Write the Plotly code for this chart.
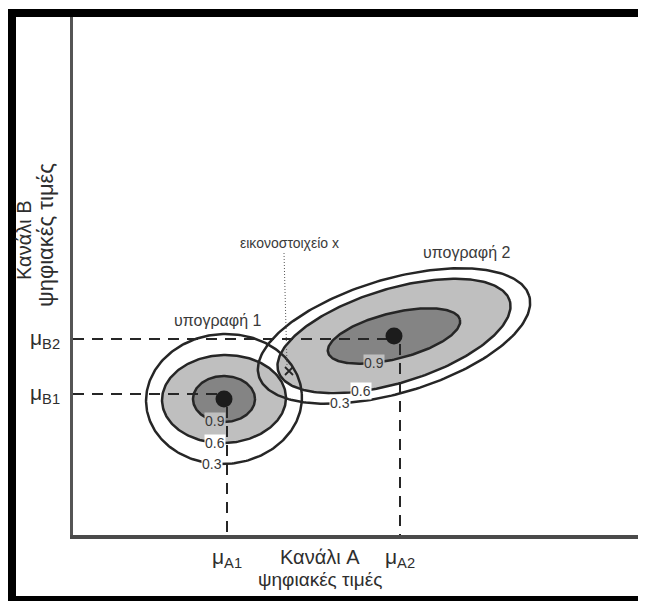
import numpy as np
import plotly.graph_objects as go

# ---------------- data (digital values, arbitrary units) ----------------
mean_a = [77.0, 163.5]            # μA1, μA2 (Κανάλι A)
mean_b = [70.5, 98.0]             # μB1, μB2 (Κανάλι B)
mean_a_labels = ["μ<sub>A1</sub>", "μ<sub>A2</sub>"]
mean_b_labels = ["μ<sub>B1</sub>", "μ<sub>B2</sub>"]

signature_names = ["υπογραφή 1", "υπογραφή 2"]
signature_cx = [75.5, 160.5]
signature_cy = [68.0, 99.5]
contour_levels = [0.3, 0.6, 0.9]
sig1_semi_major = [39.0, 31.0, 15.5]
sig1_semi_minor = [32.5, 22.0, 11.5]
sig1_angle = [4.0, 2.0, 0.0]
sig1_label_t = [-102.0, -100.0, -107.0]
sig2_semi_major = [70.5, 60.5, 34.0]
sig2_semi_minor = [28.5, 23.5, 11.5]
sig2_angle = [16.5, 17.0, 14.0]
sig2_label_t = [-120.0, -113.0, -112.0]

pixel_name = "εικονοστοιχείο x"
pixel_x = [108.0]
pixel_y = [82.0]

x_range = [0, 284.5]
y_range = [0, 259.0]

# ---------------- styling ----------------
FONT = "Liberation Sans, Arial, sans-serif"
TXT = "#2e2e2e"
LINE = "#262626"
LIGHT = "#bfbfbf"
DARK = "#848484"
fill_for_level = {0.3: None, 0.6: LIGHT, 0.9: DARK}
label_bg = {0.3: "white", 0.6: "white", 0.9: LIGHT}

# page body has an 8px margin: build the figure in page pixels minus that offset
OFF = 8
PAGE_W, PAGE_H = 646, 601
W, H = PAGE_W - OFF, PAGE_H - OFF
PLOT_L, PLOT_R, PLOT_T, PLOT_B = 73, 642, 17, 535   # page pixel edges of plot area
ML, MR, MT, MB = PLOT_L - OFF, PAGE_W - PLOT_R, PLOT_T - OFF, PAGE_H - PLOT_B


def ellipse(cx, cy, a, b, ang, n=240):
    t = np.linspace(0, 2 * np.pi, n)
    th = np.deg2rad(ang)
    u, v = a * np.cos(t), b * np.sin(t)
    return cx + u * np.cos(th) - v * np.sin(th), cy + u * np.sin(th) + v * np.cos(th)


def ellipse_point(cx, cy, a, b, ang, tdeg):
    t, th = np.deg2rad(tdeg), np.deg2rad(ang)
    u, v = a * np.cos(t), b * np.sin(t)
    return cx + u * np.cos(th) - v * np.sin(th), cy + u * np.sin(th) + v * np.cos(th)


def px_to_paper_x(px):
    return (px - PLOT_L) / (PLOT_R - PLOT_L)


def px_to_paper_y(py):
    return (PLOT_B - py) / (PLOT_B - PLOT_T)


sigs = [
    (signature_cx[0], signature_cy[0], sig1_semi_major, sig1_semi_minor, sig1_angle, sig1_label_t),
    (signature_cx[1], signature_cy[1], sig2_semi_major, sig2_semi_minor, sig2_angle, sig2_label_t),
]

fig = go.Figure()

# fills (light then dark)
for lev in [0.6, 0.9]:
    i = contour_levels.index(lev)
    for cx, cy, A, B, ANG, _ in sigs:
        ex, ey = ellipse(cx, cy, A[i], B[i], ANG[i])
        fig.add_trace(go.Scatter(x=ex, y=ey, mode="lines", fill="toself",
                                 fillcolor=fill_for_level[lev], line=dict(width=0),
                                 hoverinfo="skip", showlegend=False))

# dashed mean guides
dash = "11px,8px"
for k in range(2):
    cx, cy = signature_cx[k], signature_cy[k]
    fig.add_trace(go.Scatter(x=[0, cx], y=[mean_b[k], mean_b[k]], mode="lines",
                             line=dict(color=LINE, width=2, dash=dash),
                             hoverinfo="skip", showlegend=False))
    fig.add_trace(go.Scatter(x=[mean_a[k], mean_a[k]], y=[cy - 4, 0], mode="lines",
                             line=dict(color=LINE, width=2, dash=dash),
                             hoverinfo="skip", showlegend=False))

# outlines
for cx, cy, A, B, ANG, _ in sigs:
    for i in range(3):
        ex, ey = ellipse(cx, cy, A[i], B[i], ANG[i])
        fig.add_trace(go.Scatter(x=ex, y=ey, mode="lines",
                                 line=dict(color=LINE, width=2.5),
                                 hoverinfo="skip", showlegend=False))

# centre dots
fig.add_trace(go.Scatter(x=signature_cx, y=signature_cy, mode="markers",
                         marker=dict(size=17, color="#1c1c1c"),
                         hoverinfo="skip", showlegend=False))

# pixel x: dotted leader and marker
fig.add_trace(go.Scatter(x=[pixel_x[0] - 2.5, pixel_x[0] - 1.0], y=[141.0, pixel_y[0] + 3],
                         mode="lines", line=dict(color="#555555", width=1, dash="1px,2px"),
                         hoverinfo="skip", showlegend=False))
fig.add_trace(go.Scatter(x=pixel_x, y=pixel_y, mode="markers",
                         marker=dict(symbol="x-thin", size=8, line=dict(width=1.8, color=LINE)),
                         hoverinfo="skip", showlegend=False))

ann = []


def add_text(x, y, text, size, color=TXT, xref="x", yref="y", **kw):
    ann.append(dict(x=x, y=y, xref=xref, yref=yref, text=text, showarrow=False,
                    xanchor="center", yanchor="middle",
                    font=dict(family=FONT, size=size, color=color), **kw))


# contour level labels
for cx, cy, A, B, ANG, T in sigs:
    for i, lev in enumerate(contour_levels):
        lx, ly = ellipse_point(cx, cy, A[i], B[i], ANG[i], T[i])
        add_text(lx, ly, f"{lev}", 14, color="#383838", bgcolor=label_bg[lev], borderpad=0)

# names
add_text(72.5, 107.5, signature_names[0], 16, color="#3a3a3a")
add_text(197.0, 141.5, signature_names[1], 16, color="#3a3a3a")
add_text(108.0, 146.0, pixel_name, 14, color="#3a3a3a")

# mean tick labels
for k in range(2):
    add_text(mean_a[k], px_to_paper_y(558), mean_a_labels[k], 21, yref="paper")
    add_text(px_to_paper_x(45), mean_b[k], mean_b_labels[k], 21, xref="paper")

# axis titles
add_text(px_to_paper_x(320), px_to_paper_y(557), "Κανάλι A", 20, xref="paper", yref="paper")
add_text(px_to_paper_x(320), px_to_paper_y(579), "ψηφιακές τιμές", 19, xref="paper", yref="paper")
add_text(px_to_paper_x(24), px_to_paper_y(240), "Κανάλι B", 20, xref="paper", yref="paper",
         textangle=-90)
add_text(px_to_paper_x(45), px_to_paper_y(235), "ψηφιακές τιμές", 22, xref="paper", yref="paper",
         textangle=-90)

# black scan frame (page pixels)
shapes = []
for (x0, y0, x1, y1) in [(8, 9, 16, 601), (8, 9, 646, 17), (642, 9, 646, 601), (8, 596, 646, 601)]:
    shapes.append(dict(type="rect", xref="paper", yref="paper",
                       x0=px_to_paper_x(x0), x1=px_to_paper_x(x1),
                       y0=px_to_paper_y(y0), y1=px_to_paper_y(y1),
                       fillcolor="black", line=dict(width=0), layer="above"))

fig.update_layout(
    width=W, height=H, margin=dict(l=ML, r=MR, t=MT, b=MB, pad=0),
    paper_bgcolor="white", plot_bgcolor="white",
    xaxis=dict(range=x_range, showgrid=False, zeroline=False, showticklabels=False, ticks="",
               showline=True, linecolor="#4a4a4a", linewidth=4, fixedrange=True),
    yaxis=dict(range=y_range, showgrid=False, zeroline=False, showticklabels=False, ticks="",
               showline=True, linecolor="#555555", linewidth=3, fixedrange=True),
    annotations=ann, shapes=shapes, showlegend=False,
)

fig.write_html("out.html")
